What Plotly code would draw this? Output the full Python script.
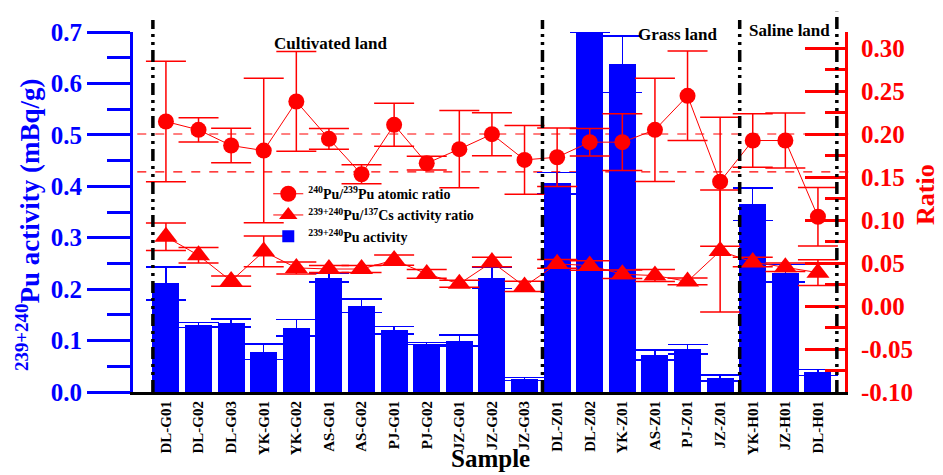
import numpy as np
import plotly.graph_objects as go

samples = ["DL-G01", "DL-G02", "DL-G03", "YK-G01", "YK-G02", "AS-G01", "AS-G02",
           "PJ-G01", "PJ-G02", "JZ-G01", "JZ-G02", "JZ-G03",
           "DL-Z01", "DL-Z02", "YK-Z01", "AS-Z01", "PJ-Z01", "JZ-Z01",
           "YK-H01", "JZ-H01", "DL-H01"]

pu_activity = [0.211, 0.130, 0.134, 0.078, 0.125, 0.222, 0.168, 0.120, 0.094, 0.100, 0.222, 0.025,
               0.406, 0.700, 0.637, 0.072, 0.083, 0.027, 0.365, 0.231, 0.038]
pu_activity_err = [0.032, 0.005, 0.008, 0.015, 0.016, 0.008, 0.013, 0.007, 0.002, 0.011, 0.021, 0.003,
                   0.021, 0.0, 0.055, 0.010, 0.009, 0.006, 0.032, 0.017, 0.006]

atomic_ratio = [0.2145, 0.2048, 0.1866, 0.1807, 0.2378, 0.1944, 0.1532, 0.2107, 0.1660, 0.1824, 0.1998, 0.1699,
                0.1730, 0.1905, 0.1905, 0.2048, 0.2444, 0.1446, 0.1924, 0.1924, 0.1038]
atomic_ratio_err = [0.070, 0.014, 0.020, 0.084, 0.058, 0.012, 0.011, 0.025, 0.008, 0.045, 0.025, 0.040,
                    0.034, 0.016, 0.033, 0.060, 0.052, 0.075, 0.031, 0.032, 0.034]

activity_ratio = [0.0805, 0.0589, 0.0290, 0.0635, 0.0443, 0.0430, 0.0430, 0.0534, 0.0373, 0.0258, 0.0511, 0.0228,
                  0.0490, 0.0470, 0.0369, 0.0354, 0.0286, 0.0640, 0.0511, 0.0450, 0.0388]
activity_ratio_err = [0.016, 0.009, 0.006, 0.018, 0.007, 0.004, 0.004, 0.006, 0.005, 0.004, 0.0055, 0.006,
                      0.005, 0.0055, 0.005, 0.007, 0.004, 0.071, 0.0055, 0.005, 0.015]

left_ticks = [0.0, 0.1, 0.2, 0.3, 0.4, 0.5, 0.6, 0.7]
left_ticktext = ["0.0", "0.1", "0.2", "0.3", "0.4", "0.5", "0.6", "0.7"]
right_ticks = [-0.10, -0.05, 0.0, 0.05, 0.10, 0.15, 0.20, 0.25, 0.30]
right_ticktext = ["-0.10", "-0.05", "0.00", "0.05", "0.10", "0.15", "0.20", "0.25", "0.30"]
reference_ratios = [0.200, 0.156]
dividers = [-0.40, 11.55, 17.6, 20.58]
divider_tops = [1.033, 1.033, 1.033, 1.056]

FONT = "Liberation Serif"
RED = "#FF0000"
BLUE = "#0000FF"
xs = np.arange(len(samples))

fig = go.Figure()
fig.add_trace(go.Scatter(
    x=xs, y=atomic_ratio, yaxis="y2", mode="lines+markers",
    name="<sup>240</sup>Pu/<sup>239</sup>Pu atomic ratio",
    marker=dict(symbol="circle", size=16, color=RED),
    line=dict(color=RED, width=1),
    error_y=dict(type="data", array=atomic_ratio_err, color=RED, thickness=1.5, width=20),
))
fig.add_trace(go.Scatter(
    x=xs, y=activity_ratio, yaxis="y2", mode="lines+markers",
    name="<sup>239+240</sup>Pu/<sup>137</sup>Cs activity ratio",
    marker=dict(symbol="triangle-up", size=20, color=RED),
    line=dict(color=RED, width=1),
    error_y=dict(type="data", array=activity_ratio_err, color=RED, thickness=1.5, width=20),
))
fig.add_trace(go.Bar(
    x=xs, y=pu_activity, name="<sup>239+240</sup>Pu activity",
    marker=dict(color=BLUE, line=dict(width=0)), width=0.83,
    error_y=dict(type="data", array=pu_activity_err, color=BLUE, thickness=1.5, width=20),
))

shapes = []
for xv, top in zip(dividers, divider_tops):
    shapes.append(dict(type="line", xref="x", yref="paper", x0=xv, x1=xv, y0=0, y1=top,
                       line=dict(color="black", width=3.5, dash="12px,5px,3px,5px,3px,5px"), layer="above"))
for rv in reference_ratios:
    shapes.append(dict(type="line", xref="paper", yref="y2", x0=0.006, x1=1.01, y0=rv, y1=rv,
                       line=dict(color=RED, width=1.2, dash="dash"), layer="below"))

annotations = [
    dict(text="Cultivated land", x=330, y=43),
    dict(text="Grass land", x=677, y=35),
    dict(text="Saline land", x=789, y=30),
]
anns = []
for a in annotations:
    anns.append(dict(text=a["text"], xref="paper", yref="paper",
                     x=(a["x"] - 133) / 712, y=(392 - a["y"]) / 360,
                     showarrow=False, xanchor="center", yanchor="middle",
                     font=dict(family=FONT, size=17, color="black", weight="bold")))
anns.append(dict(text="Sample", xref="paper", yref="paper", x=(491 - 133) / 712, y=(392 - 458) / 360,
                 showarrow=False, xanchor="center", yanchor="middle",
                 font=dict(family=FONT, size=25, color="black", weight="bold")))
anns.append(dict(text="<sup>239+240</sup>Pu activity (mBq/g)", xref="paper", yref="paper",
                 x=(28 - 133) / 712, y=(392 - 225) / 360, textangle=-90,
                 showarrow=False, xanchor="center", yanchor="middle",
                 font=dict(family=FONT, size=27, color=BLUE, weight="bold")))
anns.append(dict(text="Ratio", xref="paper", yref="paper",
                 x=(926 - 133) / 712, y=(392 - 195) / 360, textangle=-90,
                 showarrow=False, xanchor="center", yanchor="middle",
                 font=dict(family=FONT, size=26, color=RED, weight="bold")))

minor_left = [0.05, 0.15, 0.25, 0.35, 0.45, 0.55, 0.65]
minor_right = [-0.075, -0.025, 0.025, 0.075, 0.125, 0.175, 0.225, 0.275]

fig.update_layout(
    width=943, height=475, autosize=False,
    margin=dict(l=133, r=98, t=32, b=83, pad=0),
    paper_bgcolor="white", plot_bgcolor="white",
    showlegend=True, bargap=0,
    legend=dict(x=0.19, y=0.594, xanchor="left", yanchor="top", bgcolor="rgba(0,0,0,0)",
                font=dict(family=FONT, size=14, color="black", weight="bold"),
                tracegroupgap=0),
    xaxis=dict(range=[-1.01, 20.83], tickmode="array", tickvals=xs, ticktext=samples,
               tickangle=-90, ticks="", showline=True, linecolor="black", linewidth=3,
               showgrid=False, zeroline=False,
               tickfont=dict(family=FONT, size=15, color="black", weight="bold")),
    yaxis=dict(range=[0, 0.7], tickmode="array", tickvals=left_ticks, ticktext=left_ticktext,
               ticks="outside", ticklen=43, tickwidth=2.5, tickcolor=BLUE,
               showline=True, linecolor=BLUE, linewidth=3, showgrid=False, zeroline=False,
               tickfont=dict(family=FONT, size=25, color=BLUE, weight="bold"),
               minor=dict(tickmode="array", tickvals=minor_left, ticks="outside", ticklen=23,
                          tickwidth=2.5, tickcolor=BLUE, showgrid=False)),
    yaxis2=dict(range=[-0.10, 0.3186], overlaying="y", side="right", anchor="x",
                tickmode="array", tickvals=right_ticks, ticktext=right_ticktext,
                ticks="inside", ticklen=40, tickwidth=2.5, tickcolor=RED,
                showline=True, linecolor=RED, linewidth=3, showgrid=False, zeroline=False,
                ticklabelstandoff=8,
                tickfont=dict(family=FONT, size=25, color=RED, weight="bold"),
                minor=dict(tickmode="array", tickvals=minor_right, ticks="inside", ticklen=20,
                           tickwidth=2.5, tickcolor=RED, showgrid=False)),
    shapes=shapes,
    annotations=anns,
)

fig.write_html("out.html")
